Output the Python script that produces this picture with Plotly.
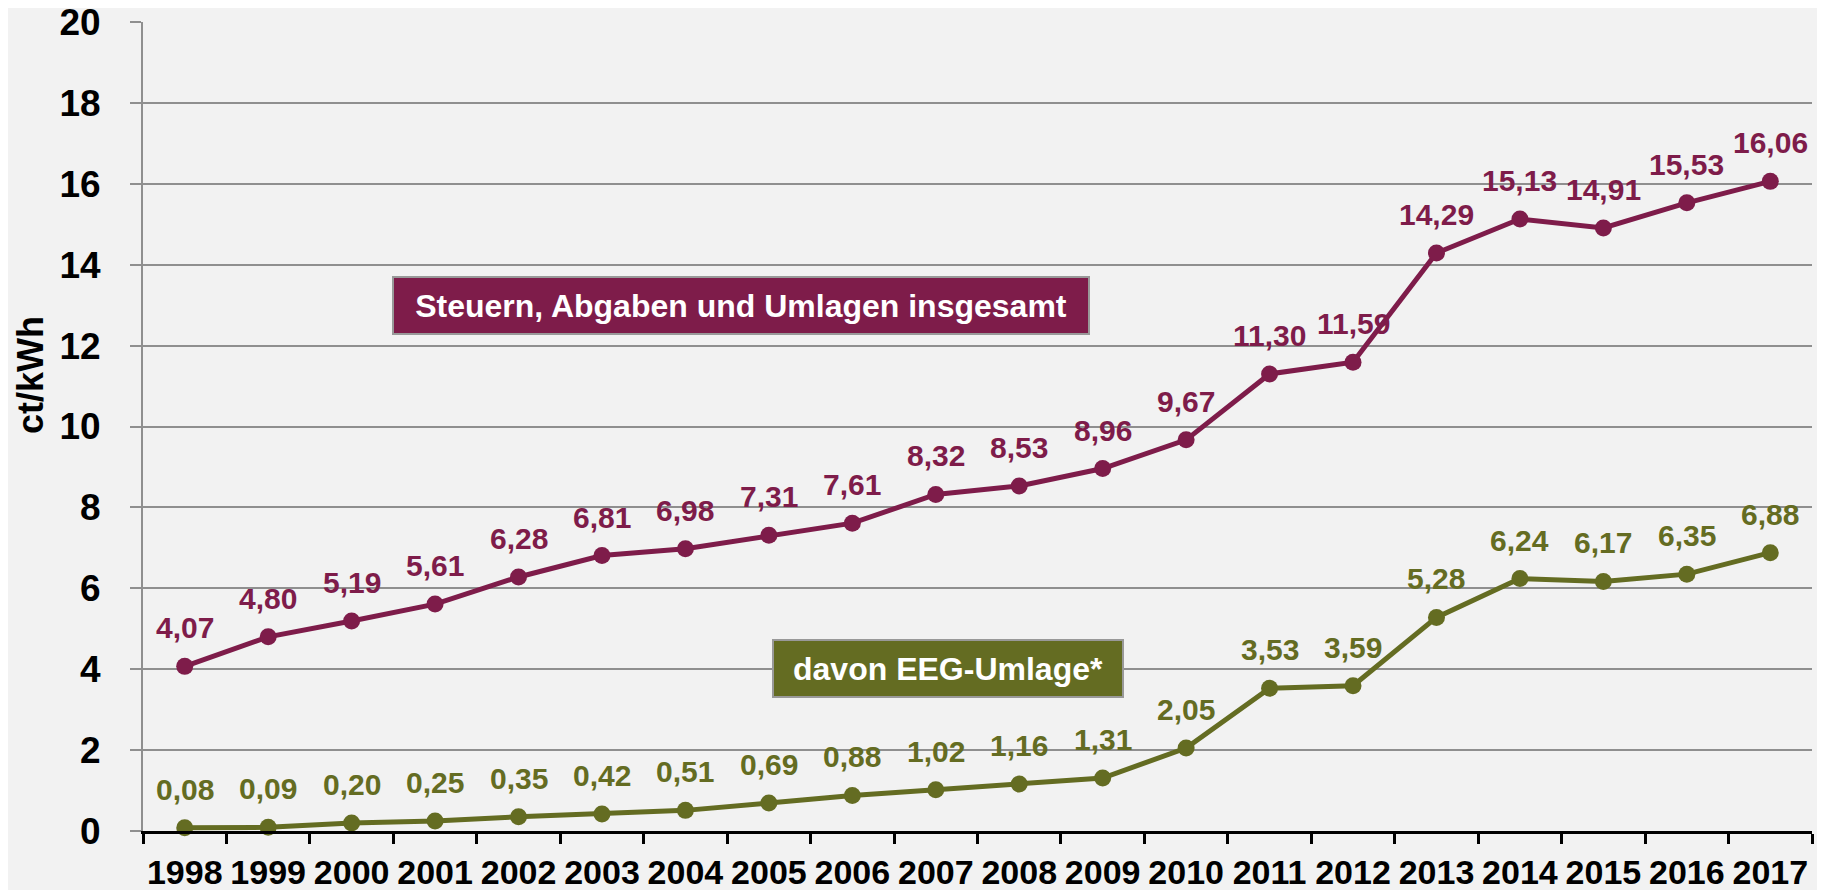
import plotly.graph_objects as go

years = ["1998", "1999", "2000", "2001", "2002", "2003", "2004", "2005", "2006", "2007",
         "2008", "2009", "2010", "2011", "2012", "2013", "2014", "2015", "2016", "2017"]
total = [4.07, 4.80, 5.19, 5.61, 6.28, 6.81, 6.98, 7.31, 7.61, 8.32,
         8.53, 8.96, 9.67, 11.30, 11.59, 14.29, 15.13, 14.91, 15.53, 16.06]
eeg = [0.08, 0.09, 0.20, 0.25, 0.35, 0.42, 0.51, 0.69, 0.88, 1.02,
       1.16, 1.31, 2.05, 3.53, 3.59, 5.28, 6.24, 6.17, 6.35, 6.88]
y_ticks = [0, 2, 4, 6, 8, 10, 12, 14, 16, 18, 20]

PURPLE = "#7E1C4A"
GREEN = "#646C22"
BG = "#F2F2F2"
GRID = "#8F8F8F"
FONT = "Liberation Sans, Arial, sans-serif"


def fmt(v):
    return f"{v:.2f}".replace(".", ",")


# page offset of the plot div (default body margin)
OFF = 8
W, H = 1825 - OFF, 890 - OFF
L, R, T, B = 143 - OFF, 13, 22 - OFF, 59
pw = W - L - R
ph = H - T - B


def px_x(p):
    return (p - OFF - L) / pw


def px_y(p):
    return (H - B - (p - OFF)) / ph


fig = go.Figure()
for vals, col in [(total, PURPLE), (eeg, GREEN)]:
    fig.add_trace(go.Scatter(
        x=years, y=vals, mode="lines+markers",
        line=dict(color=col, width=5),
        marker=dict(color=col, size=17),
        cliponaxis=False, showlegend=False, hoverinfo="skip",
    ))
    for i, v in enumerate(vals):
        # category axes take the category index for annotations
        fig.add_annotation(
            x=i, y=v, text=f"<b>{fmt(v)}</b>", showarrow=False,
            xanchor="center", yanchor="bottom", yshift=20,
            font=dict(family=FONT, size=30, color=col),
        )

fig.add_annotation(
    text="<b>Steuern, Abgaben und Umlagen insgesamt</b>",
    xref="paper", yref="paper", x=px_x((392 + 1090) / 2), y=px_y((276 + 335) / 2),
    xanchor="center", yanchor="middle", showarrow=False,
    font=dict(family=FONT, size=32, color="white"),
    bgcolor=PURPLE, bordercolor="#999999", borderwidth=2, borderpad=0,
    width=694, height=55,
)
fig.add_annotation(
    text="<b>davon EEG-Umlage*</b>",
    xref="paper", yref="paper", x=px_x((772 + 1124) / 2), y=px_y((639 + 698) / 2),
    xanchor="center", yanchor="middle", showarrow=False,
    font=dict(family=FONT, size=32, color="white"),
    bgcolor=GREEN, bordercolor="#999999", borderwidth=2, borderpad=0,
    width=348, height=55,
)
fig.add_annotation(
    text="<b>ct/kWh</b>", textangle=-90,
    xref="paper", yref="paper", x=px_x(30), y=px_y(375),
    xanchor="center", yanchor="middle", showarrow=False,
    font=dict(family=FONT, size=36, color="black"),
)

fig.update_layout(
    width=W, height=H,
    margin=dict(l=L, r=R, t=T, b=B, pad=0, autoexpand=False),
    paper_bgcolor=BG, plot_bgcolor=BG,
    xaxis=dict(
        type="category", range=[-0.5, 19.5], automargin=False, tickangle=0,
        showline=True, linecolor="black", linewidth=3,
        ticks="outside", tickson="boundaries", ticklen=10, tickwidth=3, tickcolor="black",
        showgrid=False, ticklabelstandoff=9, ticklabeloverflow="allow",
        tickfont=dict(family=FONT, size=34, color="black", weight="bold"),
    ),
    yaxis=dict(
        range=[0, 20], tickvals=y_ticks, automargin=False,
        showline=True, linecolor=GRID, linewidth=2,
        showgrid=True, gridcolor=GRID, gridwidth=2,
        ticks="outside", ticklen=11, tickwidth=2, tickcolor=GRID,
        zeroline=False, ticklabelstandoff=22, ticklabeloverflow="allow",
        tickfont=dict(family=FONT, size=37, color="black", weight="bold"),
    ),
)

fig.write_html("out.html")
